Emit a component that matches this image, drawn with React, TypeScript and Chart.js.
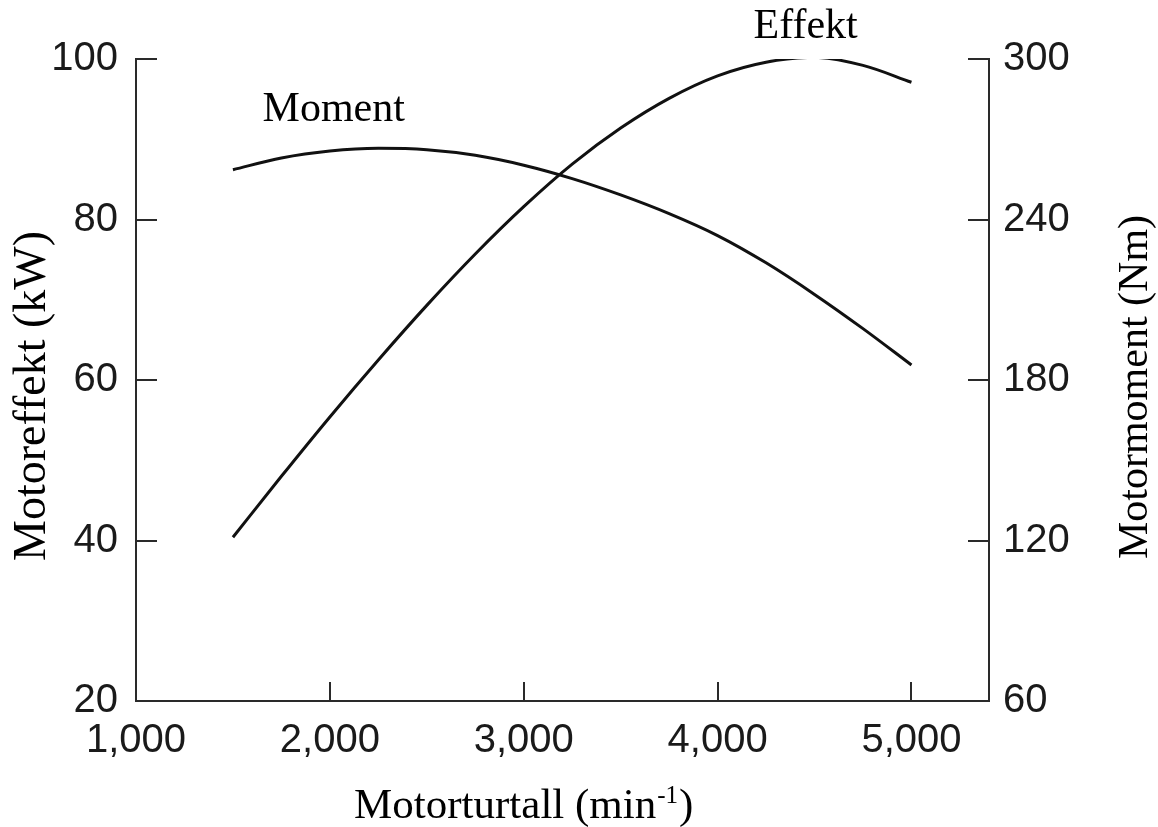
import React, { useEffect, useRef } from 'react';
import { Chart, registerables } from 'chart.js';

Chart.register(...registerables);

// ---- data ----
const rpm = [1500, 1750, 2000, 2250, 2500, 2750, 3000, 3250, 3500, 3750, 4000, 4250, 4500, 4750, 5000];
const effektKW = [40.4, 48.0, 55.4, 62.5, 69.3, 75.7, 81.6, 86.9, 91.4, 95.1, 97.9, 99.6, 100.2, 99.2, 97.1];
const momentNm = [258.6, 263.0, 265.6, 266.6, 266.1, 264.0, 260.3, 255.3, 249.2, 242.2, 234.0, 223.8, 212.0, 199.2, 185.6];

const rpmTicks = [1000, 2000, 3000, 4000, 5000];
const effektTicks = [20, 40, 60, 80, 100];
const momentTicks = [60, 120, 180, 240, 300];

const seriesNames = ['Effekt', 'Moment'];
const xTitleParts = ['Motorturtall (min', '-1', ')'];
const leftTitle = 'Motoreffekt (kW)';
const rightTitle = 'Motormoment (Nm)';

// ---- styling / layout ----
const W = 1158;
const H = 827;
const SANS = '"Liberation Sans", Arial, Helvetica, sans-serif';
const SERIF = '"Liberation Serif", "Times New Roman", serif';
const AXIS_COLOR = '#2a2a2a';
const LINE_COLOR = '#111111';

const decorPlugin = {
  id: 'decor',
  afterDraw(chart: any) {
    const { ctx, chartArea, scales } = chart;
    const xs = scales.x;
    const yl = scales.yPower;
    const yr = scales.yTorque;
    ctx.save();

    // inward tick marks
    ctx.strokeStyle = AXIS_COLOR;
    ctx.lineWidth = 2;
    ctx.beginPath();
    effektTicks.slice(1).forEach((v) => {
      const y = Math.round(yl.getPixelForValue(v));
      ctx.moveTo(chartArea.left, y);
      ctx.lineTo(chartArea.left + 21, y);
    });
    momentTicks.slice(1).forEach((v) => {
      const y = Math.round(yr.getPixelForValue(v));
      ctx.moveTo(chartArea.right, y);
      ctx.lineTo(chartArea.right - 21, y);
    });
    rpmTicks.slice(1).forEach((v) => {
      const x = Math.round(xs.getPixelForValue(v));
      ctx.moveTo(x, chartArea.bottom);
      ctx.lineTo(x, chartArea.bottom - 19);
    });
    ctx.stroke();

    ctx.fillStyle = '#000';

    // series labels
    ctx.font = `42px ${SERIF}`;
    ctx.textAlign = 'center';
    ctx.textBaseline = 'alphabetic';
    ctx.fillText(seriesNames[1], xs.getPixelForValue(2020), yl.getPixelForValue(92.3));
    ctx.fillText(seriesNames[0], xs.getPixelForValue(4454), yl.getPixelForValue(102.6));

    // x axis title with superscript
    const mainFont = `43px ${SERIF}`;
    const supFont = `25px ${SERIF}`;
    ctx.font = mainFont;
    const w1 = ctx.measureText(xTitleParts[0]).width;
    const w3 = ctx.measureText(xTitleParts[2]).width;
    ctx.font = supFont;
    const w2 = ctx.measureText(xTitleParts[1]).width + 2;
    const cx = xs.getPixelForValue(3000);
    const start = cx - (w1 + w2 + w3) / 2;
    const base = 818;
    ctx.textAlign = 'left';
    ctx.font = mainFont;
    ctx.fillText(xTitleParts[0], start, base);
    ctx.font = supFont;
    ctx.fillText(xTitleParts[1], start + w1 + 1, base - 15);
    ctx.font = mainFont;
    ctx.fillText(xTitleParts[2], start + w1 + w2, base);

    // vertical titles (both read bottom-to-top)
    ctx.textAlign = 'center';
    ctx.textBaseline = 'middle';
    ctx.save();
    ctx.font = `46px ${SERIF}`;
    ctx.translate(33, 396);
    ctx.rotate(-Math.PI / 2);
    ctx.fillText(leftTitle, 0, 0);
    ctx.restore();
    ctx.save();
    ctx.font = `42px ${SERIF}`;
    ctx.translate(1136, 387);
    ctx.rotate(-Math.PI / 2);
    ctx.fillText(rightTitle, 0, 0);
    ctx.restore();

    ctx.restore();
  },
};

export default function App() {
  const canvasRef = useRef<HTMLCanvasElement | null>(null);

  useEffect(() => {
    document.body.style.margin = '0';
    const canvas = canvasRef.current;
    if (!canvas) return;

    const chart = new Chart(canvas, {
      type: 'line',
      data: {
        datasets: [
          {
            label: seriesNames[0],
            data: rpm.map((r, i) => ({ x: r, y: effektKW[i] })),
            yAxisID: 'yPower',
            borderColor: LINE_COLOR,
            borderWidth: 3,
            pointRadius: 0,
            fill: false,
            cubicInterpolationMode: 'monotone',
          },
          {
            label: seriesNames[1],
            data: rpm.map((r, i) => ({ x: r, y: momentNm[i] })),
            yAxisID: 'yTorque',
            borderColor: LINE_COLOR,
            borderWidth: 3,
            pointRadius: 0,
            fill: false,
            cubicInterpolationMode: 'monotone',
          },
        ],
      },
      options: {
        responsive: false,
        animation: false,
        events: [],
        layout: { padding: { top: 59, left: 0, right: 0, bottom: 0 } },
        plugins: {
          legend: { display: false },
          tooltip: { enabled: false },
          title: { display: false },
        },
        scales: {
          x: {
            type: 'linear',
            position: 'bottom',
            min: 1000,
            max: 5400,
            afterBuildTicks: (s: any) => {
              s.ticks = rpmTicks.map((v) => ({ value: v }));
            },
            afterFit: (s: any) => {
              s.height = H - 701;
            },
            grid: { display: false, drawTicks: false },
            border: { display: true, color: AXIS_COLOR, width: 2 },
            ticks: {
              padding: 16,
              color: '#1a1a1a',
              font: { family: SANS, size: 40 },
              maxRotation: 0,
              autoSkip: false,
              callback: (v: any) => Number(v).toLocaleString('en-US'),
            },
          },
          yPower: {
            type: 'linear',
            position: 'left',
            min: 20,
            max: 100,
            afterBuildTicks: (s: any) => {
              s.ticks = effektTicks.map((v) => ({ value: v }));
            },
            afterFit: (s: any) => {
              s.width = 136;
            },
            grid: { display: false, drawTicks: false },
            border: { display: true, color: AXIS_COLOR, width: 2 },
            ticks: {
              padding: 18,
              color: '#1a1a1a',
              font: { family: SANS, size: 40 },
              autoSkip: false,
            },
          },
          yTorque: {
            type: 'linear',
            position: 'right',
            min: 60,
            max: 300,
            afterBuildTicks: (s: any) => {
              s.ticks = momentTicks.map((v) => ({ value: v }));
            },
            afterFit: (s: any) => {
              s.width = W - 989;
            },
            grid: { display: false, drawTicks: false },
            border: { display: true, color: AXIS_COLOR, width: 2 },
            ticks: {
              padding: 14,
              color: '#1a1a1a',
              font: { family: SANS, size: 40 },
              autoSkip: false,
            },
          },
        },
      },
      plugins: [decorPlugin],
    } as any);

    return () => {
      chart.destroy();
    };
  }, []);

  return (
    <div style={{ width: W, height: H, background: '#fff' }}>
      <canvas ref={canvasRef} width={W} height={H} style={{ display: 'block', width: W, height: H }} />
    </div>
  );
}
